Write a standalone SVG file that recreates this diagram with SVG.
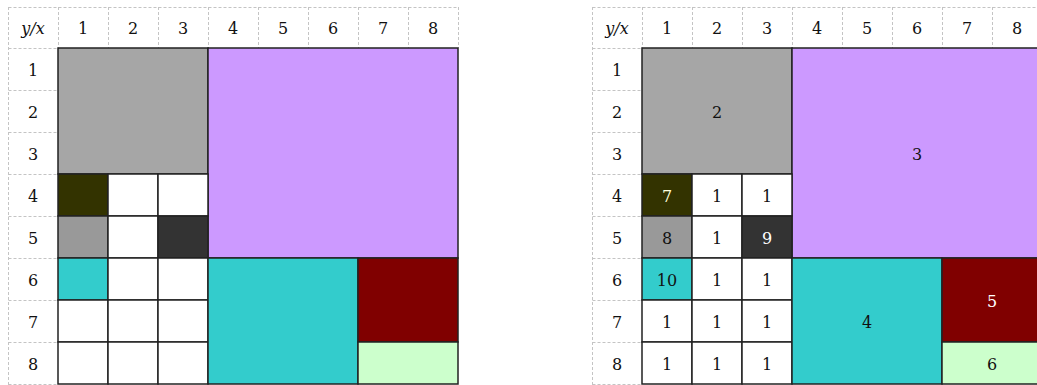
<svg xmlns="http://www.w3.org/2000/svg" width="1037" height="385" viewBox="0 0 1037 385">
<style>
.dash{stroke:#c4c4c4;stroke-width:1;stroke-dasharray:3 2;fill:none}
.c{stroke:#222;stroke-width:1.5}
.t{font-family:"DejaVu Serif","Liberation Serif",serif;font-size:16px;fill:#111;text-anchor:middle}
.w{fill:#fff}
.i{font-style:italic}
</style>
<rect width="1037" height="385" fill="#fff"/>
<defs>
<g id="axes">
<path class="dash" d="M0.5 7.5H450.5M0.5 48.5H50.5M0.5 90.5H50.5M0.5 132.5H50.5M0.5 174.5H50.5M0.5 216.5H50.5M0.5 258.5H50.5M0.5 300.5H50.5M0.5 342.5H50.5M0.5 384.5H50.5M0.5 7V385M50.5 7V48M100.5 7V48M150.5 7V48M200.5 7V48M250.5 7V48M300.5 7V48M350.5 7V48M400.5 7V48M450.5 7V48"/>
<text class="t i" x="25" y="34">y/x</text>
<text class="t" x="75" y="34">1</text><text class="t" x="125" y="34">2</text><text class="t" x="175" y="34">3</text><text class="t" x="225" y="34">4</text>
<text class="t" x="275" y="34">5</text><text class="t" x="325" y="34">6</text><text class="t" x="375" y="34">7</text><text class="t" x="425" y="34">8</text>
<text class="t" x="25" y="75.5">1</text><text class="t" x="25" y="117.5">2</text><text class="t" x="25" y="159.5">3</text><text class="t" x="25" y="201.5">4</text>
<text class="t" x="25" y="243.5">5</text><text class="t" x="25" y="285.5">6</text><text class="t" x="25" y="327.5">7</text><text class="t" x="25" y="369.5">8</text>
</g>
<g id="cells">
<rect class="c" x="50" y="41" width="150" height="126" fill="#a6a6a6"/>
<rect class="c" x="200" y="41" width="250" height="210" fill="#cc99ff"/>
<rect class="c" x="50" y="167" width="50" height="42" fill="#333300"/>
<rect class="c" x="100" y="167" width="50" height="42" fill="#fff"/>
<rect class="c" x="150" y="167" width="50" height="42" fill="#fff"/>
<rect class="c" x="50" y="209" width="50" height="42" fill="#999999"/>
<rect class="c" x="100" y="209" width="50" height="42" fill="#fff"/>
<rect class="c" x="150" y="209" width="50" height="42" fill="#333333"/>
<rect class="c" x="50" y="251" width="50" height="42" fill="#33cccc"/>
<rect class="c" x="100" y="251" width="50" height="42" fill="#fff"/>
<rect class="c" x="150" y="251" width="50" height="42" fill="#fff"/>
<rect class="c" x="50" y="293" width="50" height="42" fill="#fff"/>
<rect class="c" x="100" y="293" width="50" height="42" fill="#fff"/>
<rect class="c" x="150" y="293" width="50" height="42" fill="#fff"/>
<rect class="c" x="50" y="335" width="50" height="42" fill="#fff"/>
<rect class="c" x="100" y="335" width="50" height="42" fill="#fff"/>
<rect class="c" x="150" y="335" width="50" height="42" fill="#fff"/>
<rect class="c" x="200" y="251" width="150" height="126" fill="#33cccc"/>
<rect class="c" x="350" y="251" width="100" height="84" fill="#800000"/>
<rect class="c" x="350" y="335" width="100" height="42" fill="#ccffcc"/>
</g>
</defs>
<g id="grid-left" transform="translate(8,0)">
<use href="#axes"/>
<g transform="translate(0,7)"><use href="#cells"/></g>
</g>
<g id="grid-right" transform="translate(592,0)">
<use href="#axes"/>
<g transform="translate(0,7)"><use href="#cells"/></g>
<g id="labels">
<text class="t" x="125" y="117.5">2</text>
<text class="t" x="325" y="159.5">3</text>
<text class="t" x="75" y="201.5" fill="#ffffcc" style="fill:#ffffdd">7</text>
<text class="t" x="125" y="201.5">1</text><text class="t" x="175" y="201.5">1</text>
<text class="t" x="75" y="243.5">8</text>
<text class="t" x="125" y="243.5">1</text>
<text class="t w" x="175" y="243.5">9</text>
<text class="t" x="75" y="285.5">10</text>
<text class="t" x="125" y="285.5">1</text><text class="t" x="175" y="285.5">1</text>
<text class="t" x="75" y="327.5">1</text><text class="t" x="125" y="327.5">1</text><text class="t" x="175" y="327.5">1</text>
<text class="t" x="75" y="369.5">1</text><text class="t" x="125" y="369.5">1</text><text class="t" x="175" y="369.5">1</text>
<text class="t" x="275" y="327.5">4</text>
<text class="t w" x="400" y="306.5">5</text>
<text class="t" x="400" y="369.5">6</text>
</g>
</g>
</svg>
